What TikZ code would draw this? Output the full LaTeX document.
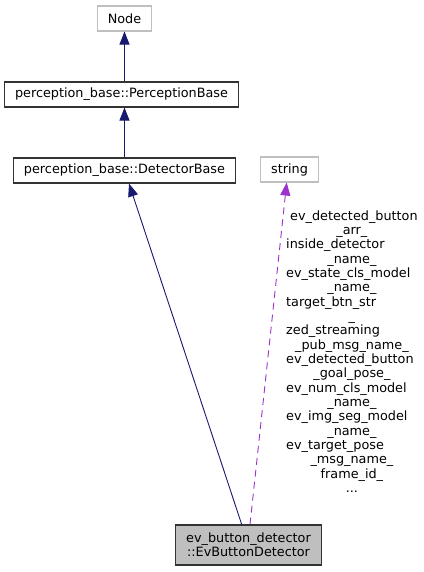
\documentclass[tikz,border=0pt]{standalone}
\usepackage{fontspec}
\setmainfont{DejaVu Sans}
\usetikzlibrary{arrows.meta}
\definecolor{inheritblue}{HTML}{191970}
\definecolor{usagepurple}{HTML}{9A32CD}
\definecolor{extgrey}{HTML}{BFBFBF}
\definecolor{selffill}{HTML}{BFBFBF}

\begin{document}
\begin{tikzpicture}[
  x=1pt, y=-1pt,
  font=\fontsize{12.8}{14.35}\selectfont,
  cls/.style={draw=black!80, line width=1.1pt, inner xsep=10.5pt, inner ysep=0pt, minimum height=25pt},
  ext/.style={cls, draw=extgrey},
  self/.style={cls, fill=selffill, align=center, minimum height=40pt},
  inherit/.style={draw=inheritblue, line width=0.9pt, -{Triangle[length=13pt, width=10pt]}},
  usage/.style={draw=usagepurple, line width=0.9pt, dash pattern=on 7pt off 5pt, -{Triangle[length=13pt, width=10pt]}}
]
\useasboundingbox (0,0) rectangle (423,572);

\node[ext] (node) at (124.5,18.5) {Node};
\node[cls] (pb) at (121.5,94.5) {perception\_base::PerceptionBase};
\node[cls] (db) at (124.5,170.5) {perception\_base::DetectorBase};
\node[ext] (str) at (289.5,169.5) {string};
\node[self] (evb) at (248.5,545) {ev\_button\_detector\\::EvButtonDetector};

\node[anchor=base west, inner sep=0pt] (vars) at (286,220) {%
  \begin{tabular}[t]{@{}l@{}}
  \hspace*{4pt}ev\_detected\_button\\
  \multicolumn{1}{@{}c@{}}{\_arr\_}\\
  inside\_detector\\
  \multicolumn{1}{@{}c@{}}{\_name\_}\\
  ev\_state\_cls\_model\\
  \multicolumn{1}{@{}c@{}}{\_name\_}\\
  target\_btn\_str\\
  \multicolumn{1}{@{}c@{}}{\_}\\
  zed\_streaming\\
  \multicolumn{1}{@{}c@{}}{\_pub\_msg\_name\_}\\
  ev\_detected\_button\\
  \multicolumn{1}{@{}c@{}}{\_goal\_pose\_}\\
  ev\_num\_cls\_model\\
  \multicolumn{1}{@{}c@{}}{\_name\_}\\
  ev\_img\_seg\_model\\
  \multicolumn{1}{@{}c@{}}{\_name\_}\\
  ev\_target\_pose\\
  \multicolumn{1}{@{}c@{}}{\_msg\_name\_}\\
  \multicolumn{1}{@{}c@{}}{frame\_id\_}\\
  \multicolumn{1}{@{}c@{}}{...}
  \end{tabular}};

\draw[inherit] (node.south |- pb.north) -- (node.south);
\draw[inherit] (db.north) -- (db.north |- pb.south);
\draw[inherit] ([xshift=-6.8pt]evb.north) -- ([xshift=4.5pt]db.south);
\draw[usage] ([xshift=1.5pt]evb.north) -- ([xshift=-2.8pt]str.south);
\end{tikzpicture}
\end{document}
